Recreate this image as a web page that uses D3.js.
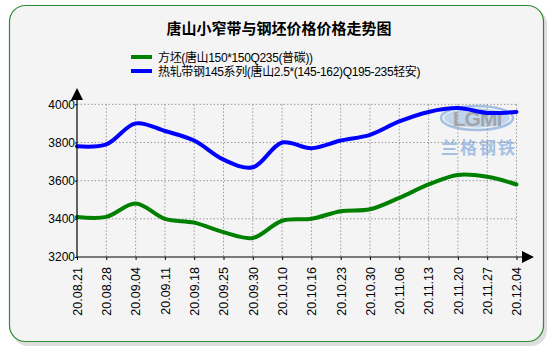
<!DOCTYPE html>
<html>
<head>
<meta charset="utf-8">
<script src="https://cdn.jsdelivr.net/npm/d3@7/dist/d3.min.js"></script>
<style>
  html, body { margin: 0; padding: 0; background: #ffffff; }
  svg { display: block; }
  text { font-family: "Liberation Sans", Arial, "Noto Sans CJK SC", sans-serif; }
</style>
</head>
<body>
<svg id="chart" width="552" height="348"></svg>
<script>
// Weekly dates (yy.mm.dd)
const dates = ["20.08.21","20.08.28","20.09.04","20.09.11","20.09.18","20.09.25","20.09.30",
               "20.10.10","20.10.16","20.10.23","20.10.30","20.11.06","20.11.13","20.11.20",
               "20.11.27","20.12.04"];
// 方坯 price (元/吨)
const billet = [3410,3410,3480,3400,3380,3330,3300,3390,3400,3440,3450,3510,3580,3630,3620,3580];
// 热轧带钢 price (元/吨)
const strip  = [3780,3790,3900,3860,3810,3710,3670,3800,3770,3810,3840,3910,3960,3980,3955,3960];
const yTicks = [3200,3400,3600,3800,4000];
const seriesNames = ["方坯(唐山150*150Q235(普碳))", "热轧带钢145系列(唐山2.5*(145-162)Q195-235轻安)"];
const seriesColors = ["#008000", "#0000ff"];

const svg = d3.select("#chart");

// card with shadow
svg.append("rect").attr("x", 12).attr("y", 8).attr("width", 535).attr("height", 338)
  .attr("rx", 16).attr("fill", "#c8c8c8").attr("opacity", 0.6);
svg.append("rect").attr("x", 9.5).attr("y", 5.5).attr("width", 534).attr("height", 336)
  .attr("rx", 16).attr("fill", "#f4f4f4").attr("stroke", "#2e8b2e").attr("stroke-width", 1.2);

// title
svg.append("text").attr("x", 279).attr("y", 34).attr("text-anchor", "middle")
  .attr("font-size", 15).attr("font-weight", "bold").attr("fill", "#000")
  .text("唐山小窄带与钢坯价格价格走势图");

// legend
seriesNames.forEach((name, i) => {
  const y = 57 + i * 14;
  svg.append("line").attr("x1", 131).attr("x2", 152).attr("y1", y).attr("y2", y)
    .attr("stroke", seriesColors[i]).attr("stroke-width", 4);
  svg.append("text").attr("x", 158).attr("y", y + 5).attr("font-size", 12).attr("fill", "#000")
    .attr("letter-spacing", -0.35).text(name);
});

const x0 = 77, x1 = 516.5, yTop = 104.3, yBot = 257;
const x = d3.scalePoint().domain(dates).range([x0, x1]);
const y = d3.scaleLinear().domain([3200, 4000]).range([yBot, yTop]);

// watermark
const wm = svg.append("g").attr("opacity", 0.6);
wm.append("ellipse").attr("cx", 477).attr("cy", 118).attr("rx", 36).attr("ry", 12)
  .attr("fill", "none").attr("stroke", "#6f9fd8").attr("stroke-width", 2.5);
wm.append("ellipse").attr("cx", 477).attr("cy", 118).attr("rx", 33).attr("ry", 9.5)
  .attr("fill", "#9fc0e8");
wm.append("text").attr("x", 477).attr("y", 126).attr("text-anchor", "middle")
  .attr("font-size", 21).attr("font-weight", "bold").attr("fill", "#707070")
  .attr("letter-spacing", -1).text("LGMI");
wm.append("text").attr("x", 479).attr("y", 154).attr("text-anchor", "middle")
  .attr("font-size", 17).attr("font-weight", "bold").attr("fill", "#6f9fd8")
  .attr("letter-spacing", 2).text("兰格钢铁");

// grid
const grid = svg.append("g").attr("stroke", "#999").attr("stroke-width", 1)
  .attr("stroke-dasharray", "1.5,2");
dates.slice(1).forEach(d => {
  grid.append("line").attr("x1", x(d)).attr("x2", x(d)).attr("y1", yTop).attr("y2", yBot);
});
yTicks.slice(1).forEach(v => {
  grid.append("line").attr("x1", x0).attr("x2", x1).attr("y1", y(v)).attr("y2", y(v));
});

// series lines
const line = d3.line().x((d, i) => x(dates[i])).y(d => y(d)).curve(d3.curveCatmullRom.alpha(0.5));
[billet, strip].forEach((vals, i) => {
  svg.append("path").attr("d", line(vals)).attr("fill", "none")
    .attr("stroke", seriesColors[i]).attr("stroke-width", 4)
    .attr("stroke-linejoin", "round").attr("stroke-linecap", "round");
});

// y axis
const yAxis = d3.axisLeft(y).tickValues(yTicks).tickSize(2).tickFormat(d3.format("d"));
const gy = svg.append("g").attr("transform", `translate(${x0},0)`).call(yAxis);
gy.select(".domain").remove();
gy.selectAll("text").attr("font-size", 12).attr("fill", "#000").attr("x", -2);
gy.selectAll("line").attr("stroke", "#000");
svg.append("line").attr("x1", x0).attr("x2", x0).attr("y1", yBot).attr("y2", 96)
  .attr("stroke", "#000").attr("stroke-width", 1.2);
svg.append("path").attr("d", `M${x0 - 6},${100} L${x0},${88} L${x0 + 6},${100} Z`).attr("fill", "#000");

// x axis
const xAxis = d3.axisBottom(x).tickSize(3).tickSizeOuter(0);
const gx = svg.append("g").attr("transform", `translate(0,${yBot})`).call(xAxis);
gx.select(".domain").remove();
gx.selectAll("line").attr("stroke", "#000");
gx.selectAll("text").attr("font-size", 12.5).attr("fill", "#000")
  .attr("transform", "rotate(-90)").attr("text-anchor", "end")
  .attr("x", -10).attr("y", 0).attr("dy", "0.35em");
svg.append("line").attr("x1", x0).attr("x2", 524).attr("y1", yBot).attr("y2", yBot)
  .attr("stroke", "#000").attr("stroke-width", 1.2);
svg.append("path").attr("d", `M${522},${yBot - 6} L${534},${yBot} L${522},${yBot + 6} Z`).attr("fill", "#000");
</script>
</body>
</html>
